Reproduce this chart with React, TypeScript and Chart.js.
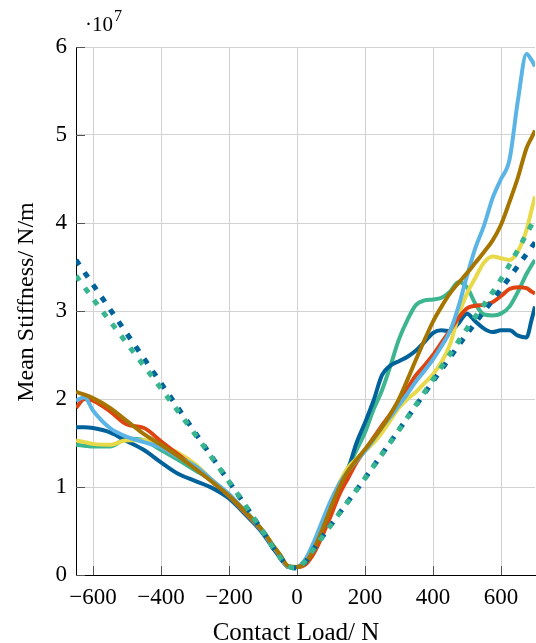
import React, { useEffect, useRef } from "react";
import { Chart, registerables } from "chart.js";

Chart.register(...registerables);

// Contact load (N) sample points for the measured curves
const loadN = [
  -650, -625, -600, -550, -500, -450, -400, -350, -300, -250, -200, -150, -100, -75, -50, -25,
  0, 25, 50, 75, 100, 125, 150, 175, 200, 225, 250, 275, 300, 325, 350, 375, 400, 425, 450,
  475, 500, 525, 550, 575, 600, 625, 650, 675, 690, 700,
];

// Mean stiffness values in units of 1e7 N/m
const darkBlue = [
  1.68, 1.68, 1.67, 1.62, 1.52, 1.42, 1.28, 1.15, 1.07, 0.99, 0.87, 0.68, 0.47, 0.33, 0.2, 0.09,
  0.09, 0.17, 0.35, 0.58, 0.8, 1.0, 1.2, 1.5, 1.73, 1.98, 2.27, 2.38, 2.43, 2.48, 2.55, 2.65,
  2.75, 2.78, 2.77, 2.86, 2.97, 2.88, 2.8, 2.76, 2.78, 2.78, 2.72, 2.7, 2.9, 3.05,
];
const red = [
  1.9, 2.0, 1.98, 1.86, 1.71, 1.67, 1.52, 1.37, 1.22, 1.06, 0.9, 0.7, 0.49, 0.35, 0.22, 0.09,
  0.09, 0.12, 0.25, 0.45, 0.68, 0.92, 1.1, 1.28, 1.42, 1.56, 1.7, 1.83, 1.97, 2.12, 2.27, 2.38,
  2.5, 2.64, 2.78, 2.92, 3.03, 3.06, 3.07, 3.1, 3.17, 3.25, 3.27, 3.26, 3.22, 3.2,
];
const yellow = [
  1.53, 1.51, 1.49, 1.48, 1.53, 1.53, 1.48, 1.39, 1.26, 1.08, 0.9, 0.7, 0.49, 0.35, 0.22, 0.09,
  0.09, 0.15, 0.33, 0.57, 0.82, 1.05, 1.22, 1.32, 1.41, 1.5, 1.62, 1.76, 1.9, 2.0, 2.08, 2.18,
  2.28, 2.42, 2.62, 2.95, 3.2, 3.38, 3.55, 3.62, 3.6, 3.58, 3.68, 3.92, 4.15, 4.3,
];
const lightBlue = [
  1.98, 2.02, 1.87, 1.67, 1.57, 1.51, 1.45, 1.34, 1.24, 1.08, 0.92, 0.71, 0.49, 0.35, 0.22, 0.09,
  0.09, 0.18, 0.38, 0.62, 0.85, 1.04, 1.18, 1.3, 1.41, 1.54, 1.68, 1.8, 1.93, 2.06, 2.2, 2.32,
  2.45, 2.6, 2.77, 3.05, 3.4, 3.72, 3.97, 4.28, 4.5, 4.72, 5.4, 5.92, 5.85, 5.78,
];
const green = [
  1.48, 1.47, 1.46, 1.46, 1.55, 1.53, 1.42, 1.31, 1.19, 1.07, 0.9, 0.72, 0.5, 0.36, 0.23, 0.09,
  0.09, 0.15, 0.32, 0.55, 0.8, 1.02, 1.22, 1.42, 1.62, 1.88, 2.1, 2.38, 2.68, 2.9, 3.07, 3.12,
  3.13, 3.15, 3.22, 3.33, 3.27, 3.08, 2.96, 2.95, 2.97, 3.05, 3.22, 3.42, 3.52, 3.58,
];
const brown = [
  2.08, 2.05, 2.01, 1.9, 1.75, 1.6, 1.48, 1.35, 1.21, 1.06, 0.9, 0.71, 0.5, 0.36, 0.23, 0.1,
  0.09, 0.14, 0.3, 0.52, 0.77, 1.0, 1.18, 1.31, 1.43, 1.55, 1.68, 1.83, 2.0, 2.22, 2.45, 2.67,
  2.88, 3.05, 3.2, 3.32, 3.43, 3.55, 3.67, 3.8, 3.98, 4.24, 4.52, 4.85, 4.97, 5.05,
];

// Model (dotted) curves
const modelLoadN = [-650, -600, -500, -400, -300, -200, -150, -100, -50, -25, 0, 25, 50, 100, 200, 300, 400, 500, 600, 700];
const modelBlue = [3.58, 3.3, 2.74, 2.18, 1.62, 1.06, 0.78, 0.49, 0.2, 0.1, 0.08, 0.15, 0.3, 0.57, 1.1, 1.65, 2.2, 2.74, 3.25, 3.78];
const modelTeal = [3.4, 3.14, 2.63, 2.12, 1.6, 1.06, 0.78, 0.49, 0.2, 0.1, 0.08, 0.16, 0.3, 0.57, 1.1, 1.65, 2.22, 2.8, 3.36, 4.05];

const xTicks = [-600, -400, -200, 0, 200, 400, 600];
const yTicks = [0, 1, 2, 3, 4, 5, 6];

const FONT = "'Liberation Serif', 'Times New Roman', serif";

const fmt = (v: number) => (v < 0 ? "\u2212" + Math.abs(v) : String(v));

export default function App() {
  const ref = useRef<HTMLCanvasElement>(null);

  useEffect(() => {
    const canvas = ref.current;
    if (!canvas) return;
    const pts = (xs: number[], ys: number[]) => xs.map((x, i) => ({ x, y: ys[i] }));

    const solid = (label: string, ys: number[], color: string, order: number) => ({
      label,
      data: pts(loadN, ys),
      borderColor: color,
      borderWidth: 4,
      pointRadius: 0,
      fill: false,
      cubicInterpolationMode: "monotone" as const,
      order,
    });
    const dotted = (label: string, ys: number[], color: string, order: number) => ({
      label,
      data: pts(modelLoadN, ys),
      borderColor: color,
      borderWidth: 5,
      borderDash: [6, 9],
      borderCapStyle: "butt" as const,
      pointRadius: 0,
      fill: false,
      cubicInterpolationMode: "monotone" as const,
      order,
    });

    const decor = {
      id: "decor",
      beforeDatasetsDraw(chart: any) {
        const { ctx, chartArea, scales } = chart;
        ctx.save();
        ctx.strokeStyle = "#555";
        ctx.lineWidth = 1;
        ctx.beginPath();
        xTicks.forEach((v) => {
          const px = Math.round(scales.x.getPixelForValue(v)) + 0.5;
          ctx.moveTo(px, chartArea.bottom);
          ctx.lineTo(px, chartArea.bottom - 9);
        });
        yTicks.forEach((v) => {
          const py = Math.round(scales.y.getPixelForValue(v)) + 0.5;
          ctx.moveTo(chartArea.left, py);
          ctx.lineTo(chartArea.left + 9, py);
        });
        ctx.stroke();
        ctx.restore();
      },
      afterDraw(chart: any) {
        const { ctx } = chart;
        ctx.save();
        ctx.fillStyle = "#000";
        // exponent marker
        ctx.textAlign = "left";
        ctx.textBaseline = "alphabetic";
        ctx.font = `21px ${FONT}`;
        const base = "\u00B710";
        ctx.fillText(base, 77, 23);
        const w = ctx.measureText(base).width;
        ctx.font = `16px ${FONT}`;
        ctx.fillText("7", 77 + w + 1, 13);
        // x title
        ctx.font = `25px ${FONT}`;
        ctx.textAlign = "center";
        ctx.fillText("Contact Load/ N", 288, 632);
        // y title
        ctx.translate(19, 294);
        ctx.rotate(-Math.PI / 2);
        ctx.textBaseline = "middle";
        ctx.font = `24px ${FONT}`;
        ctx.fillText("Mean Stiffness/ N/m", 0, 0);
        ctx.restore();
      },
    };

    const chart = new Chart(canvas, {
      type: "line",
      data: {
        datasets: [
          solid("Series A", green, "#3DB58F", 8),
          solid("Series B", darkBlue, "#00629B", 7),
          solid("Series C", yellow, "#E8D948", 6),
          solid("Series D", red, "#DF4310", 5),
          solid("Series E", lightBlue, "#5BB4E6", 4),
          solid("Series F", brown, "#A67500", 3),
          dotted("Model 1", modelBlue, "#00629B", 2),
          dotted("Model 2", modelTeal, "#38B48F", 1),
        ] as any,
      },
      options: {
        animation: false,
        responsive: false,
        events: [],
        layout: { padding: { top: 39, right: 1, left: 0, bottom: 0 } },
        plugins: { legend: { display: false }, tooltip: { enabled: false } },
        scales: {
          x: {
            type: "linear",
            min: -650,
            max: 700,
            afterBuildTicks: (s: any) => {
              s.ticks = xTicks.map((v) => ({ value: v }));
            },
            afterFit: (s: any) => {
              s.height = 68;
            },
            grid: { color: "#d2d2d2", lineWidth: 1, drawTicks: false },
            border: { color: "#000", width: 1 },
            ticks: {
              padding: 9,
              color: "#000",
              autoSkip: false,
              maxRotation: 0,
              font: { family: FONT, size: 23 },
              callback: (v: any) => fmt(Number(v)),
            },
          },
          y: {
            type: "linear",
            min: 0,
            max: 6,
            afterBuildTicks: (s: any) => {
              s.ticks = yTicks.map((v) => ({ value: v }));
            },
            afterFit: (s: any) => {
              s.width = 68;
            },
            grid: { color: "#d2d2d2", lineWidth: 1, drawTicks: false },
            border: { color: "#000", width: 1 },
            ticks: {
              padding: 9,
              color: "#000",
              font: { family: FONT, size: 23 },
              callback: (v: any) => String(v),
            },
          },
        },
      },
      plugins: [decor],
    });
    return () => chart.destroy();
  }, []);

  return (
    <div style={{ position: "fixed", left: 8, top: 8, width: 528, height: 635, overflow: "hidden" }}>
      <canvas ref={ref} width={528} height={635} style={{ display: "block" }} />
    </div>
  );
}
